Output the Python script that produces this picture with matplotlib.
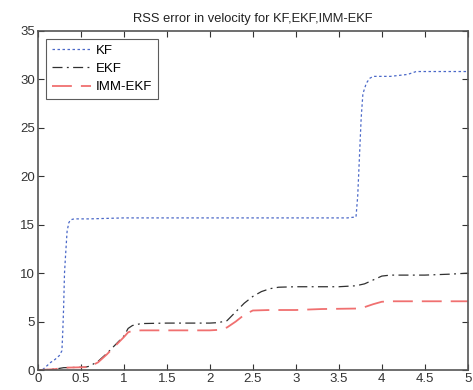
import matplotlib
matplotlib.use("Agg")
import matplotlib.pyplot as plt

# KF (blue dotted)
kf_t = [0.0, 0.05, 0.10, 0.15, 0.20, 0.25, 0.28, 0.29, 0.30, 0.31, 0.32, 0.34, 0.36, 0.38, 0.42, 0.6, 1.0, 2.0, 3.0, 3.6, 3.70, 3.72, 3.74, 3.76, 3.78, 3.82, 3.86, 3.9, 4.1, 4.3, 4.4, 4.6, 5.0]
kf_v = [0.0, 0.0, 0.4, 0.8, 1.1, 1.5, 2.0, 4.0, 6.5, 10.0, 11.5, 14.3, 15.2, 15.5, 15.6, 15.6, 15.7, 15.7, 15.7, 15.7, 15.8, 18.0, 22.0, 26.0, 28.5, 29.6, 30.1, 30.3, 30.3, 30.5, 30.8, 30.8, 30.8]

# EKF (black dash-dot)
ekf_t = [0.0, 0.2, 0.3, 0.55, 0.6, 0.7, 0.8, 0.9, 1.0, 1.05, 1.1, 1.2, 1.5, 2.0, 2.1, 2.2, 2.3, 2.4, 2.5, 2.6, 2.7, 2.8, 3.0, 3.5, 3.7, 3.8, 3.9, 4.0, 4.1, 4.5, 4.8, 5.0]
ekf_v = [0.0, 0.1, 0.25, 0.3, 0.4, 0.9, 1.7, 2.6, 3.5, 4.3, 4.6, 4.8, 4.85, 4.85, 4.9, 5.1, 6.0, 6.9, 7.6, 8.1, 8.4, 8.55, 8.6, 8.6, 8.7, 8.9, 9.3, 9.7, 9.8, 9.8, 9.9, 10.0]

# IMM-EKF (red dashed)
imm_t = [0.0, 0.2, 0.3, 0.55, 0.6, 0.7, 0.8, 0.9, 1.0, 1.05, 1.1, 1.2, 1.5, 2.0, 2.1, 2.2, 2.3, 2.4, 2.5, 2.7, 3.0, 3.3, 3.7, 3.8, 3.9, 4.0, 4.1, 4.5, 5.0]
imm_v = [0.0, 0.1, 0.25, 0.3, 0.35, 0.8, 1.6, 2.5, 3.4, 3.9, 4.05, 4.1, 4.1, 4.1, 4.15, 4.4, 5.0, 5.7, 6.15, 6.2, 6.2, 6.3, 6.35, 6.5, 6.8, 7.05, 7.1, 7.1, 7.1]

x_ticks = [0, 0.5, 1, 1.5, 2, 2.5, 3, 3.5, 4, 4.5, 5]
x_ticklabels = ["0", "0.5", "1", "1.5", "2", "2.5", "3", "3.5", "4", "4.5", "5"]
y_ticks = [0, 5, 10, 15, 20, 25, 30, 35]

plt.rcParams['font.family'] = ['Liberation Sans', 'DejaVu Sans']

fig = plt.figure(figsize=(4.73, 3.90), dpi=100)
ax = fig.add_axes([0.080, 0.051, 0.909, 0.870])

ax.plot(kf_t, kf_v, linestyle=(0, (2, 2)), color='#4a68c8', lw=0.9, label='KF')
ax.plot(ekf_t, ekf_v, linestyle=(0, (8, 3.5, 1.5, 3.5)), color='#303030', lw=0.9, label='EKF')
ax.plot(imm_t, imm_v, linestyle=(0, (11, 5)), color='#f07070', lw=1.3, label='IMM-EKF')

ax.set_xlim(0, 5)
ax.set_ylim(0, 35)
ax.set_xticks(x_ticks)
ax.set_xticklabels(x_ticklabels)
ax.set_yticks(y_ticks)
ax.tick_params(direction='in', top=True, right=True, labelsize=9.5, length=4, width=0.8, colors='#333333', pad=2)
for s in ax.spines.values():
    s.set_color('#555555')
    s.set_linewidth(1.2)

ax.set_title('RSS error in velocity for KF,EKF,IMM-EKF', fontsize=9.3, color='#222222', pad=6)

leg = ax.legend(loc='upper left', fontsize=9.5, frameon=True, fancybox=False, handlelength=3.0,
                borderpad=0.45, labelspacing=0.45, handletextpad=0.35, borderaxespad=0.6)
leg.get_frame().set_edgecolor('#333333')
leg.get_frame().set_linewidth(0.8)

fig.savefig('out.png', dpi=100)
